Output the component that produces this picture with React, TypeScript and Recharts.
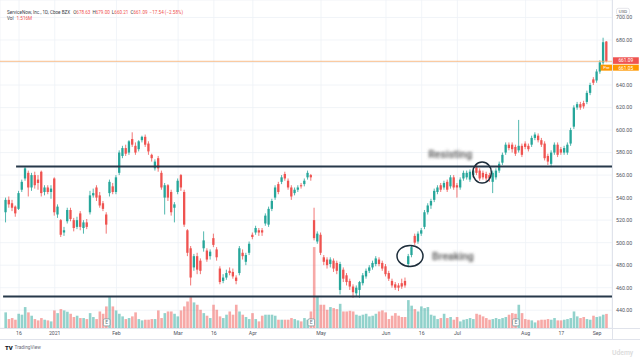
import React from "react";
import {
  ComposedChart,
  Bar,
  XAxis,
  YAxis,
  CartesianGrid,
  ReferenceLine,
  ReferenceDot,
} from "recharts";

// ---- data (ServiceNow, 1D) ----
const OPEN = [
  527, 538, 535, 532, 530, 547, 557, 562, 549, 560,
  556, 563, 545, 549, 545, 557, 525, 520, 509, 519,
  529, 520, 514, 526, 513, 518, 527, 542, 549, 542,
  535, 525, 544, 550, 545, 562, 577, 584, 580, 592,
  586, 583, 591, 594, 588, 578, 566, 575, 562, 540,
  551, 545, 531, 545, 560, 545, 511, 495, 478, 488,
  484, 495, 493, 488, 504, 494, 477, 466, 469, 475,
  474, 469, 473, 491, 483, 491, 507, 509, 511, 511,
  517, 516, 530, 540, 552, 554, 561, 555, 549, 544,
  547, 551, 552, 558, 560, 520, 501, 507, 487, 485,
  481, 484, 482, 458, 476, 471, 466, 461, 455, 458,
  464, 470, 475, 478, 481, 485, 482, 479, 473, 466,
  463, 462, 464, 466, 481, 489, 506, 501, 508, 514,
  527, 533, 538, 545, 551, 549, 554, 550, 558, 551,
  549, 557, 558, 556, 560, 567, 564, 562, 561, 560,
  554, 558, 564, 571, 580, 587, 587, 585, 582, 586,
  588, 586, 587, 593, 595, 591, 588, 577, 570, 580,
  587, 583, 580, 580, 588, 603, 620, 623, 624, 625,
  633, 645, 644, 652, 660, 678.63,
];
const HIGH = [
  540, 541, 538, 533, 546, 556, 568, 564, 562, 563,
  560, 564, 551, 551, 551, 558, 534, 521, 514, 531,
  531, 522, 523, 528, 520, 521, 546, 548, 551, 545,
  537, 527, 556, 553, 560, 582, 586, 587, 591, 598,
  589, 591, 595, 596, 590, 579, 574, 577, 564, 553,
  552, 547, 536, 557, 561, 547, 512, 497, 490, 491,
  486, 510, 495, 494, 508, 496, 479, 472, 476, 478,
  477, 471, 497, 494, 491, 501, 509, 515, 513, 513,
  526, 532, 539, 551, 554, 560, 563, 557, 551, 549,
  551, 553, 557, 564, 561, 531, 510, 509, 489, 487,
  487, 486, 484, 483, 478, 473, 468, 463, 462, 466,
  473, 477, 480, 484, 488, 487, 484, 481, 475, 468,
  465, 464, 468, 469, 490, 498, 508, 510, 513, 529,
  535, 539, 548, 551, 553, 555, 556, 560, 560, 553,
  558, 564, 564, 565, 566, 569, 566, 564, 563, 562,
  564, 566, 572, 580, 589, 589, 589, 587, 609, 588,
  590, 588, 595, 598, 597, 593, 590, 579, 582, 589,
  589, 585, 586, 589, 602, 622, 625, 625, 626, 635,
  642, 647, 654, 662, 682, 679.0,
];
const LOW = [
  518, 531, 528, 523, 529, 545, 555, 541, 546, 548,
  547, 541, 542, 543, 539, 524, 522, 505, 506, 517,
  519, 510, 512, 511, 508, 512, 525, 540, 537, 531,
  528, 508, 541, 543, 543, 560, 575, 577, 578, 585,
  578, 581, 589, 585, 578, 572, 564, 563, 547, 525,
  537, 524, 518, 543, 546, 514, 488, 462, 475, 472,
  472, 492, 483, 485, 496, 484, 463, 464, 467, 471,
  468, 463, 471, 485, 480, 489, 503, 507, 506, 506,
  515, 514, 528, 538, 543, 552, 555, 547, 538, 542,
  545, 548, 550, 556, 555, 502, 499, 489, 480, 477,
  478, 474, 472, 454, 465, 462, 458, 451, 452, 451,
  462, 468, 473, 476, 479, 479, 475, 470, 466, 460,
  458, 457, 459, 460, 478, 487, 498, 499, 506, 512,
  525, 530, 536, 543, 545, 547, 545, 548, 547, 540,
  547, 555, 556, 554, 558, 560, 555, 556, 555, 554,
  544, 556, 562, 569, 578, 582, 580, 577, 580, 576,
  583, 581, 585, 591, 589, 585, 573, 569, 567, 578,
  576, 578, 578, 578, 586, 601, 618, 618, 619, 623,
  631, 640, 642, 650, 658, 660.21,
];
const CLOSE = [
  538, 534, 531, 526, 544, 554, 566, 549, 560, 551,
  553, 544, 549, 545, 548, 527, 532, 507, 511, 529,
  521, 513, 520, 514, 518, 514, 542, 544, 540, 533,
  530, 516, 554, 545, 558, 580, 584, 579, 590, 587,
  580, 590, 594, 587, 581, 575, 572, 566, 549, 551,
  540, 527, 534, 555, 549, 516, 491, 469, 488, 476,
  475, 502, 485, 492, 498, 487, 465, 469, 473, 473,
  470, 466, 495, 488, 489, 499, 505, 513, 509, 509,
  524, 530, 537, 549, 545, 558, 557, 549, 541, 547,
  549, 550, 555, 562, 558, 504, 508, 491, 483, 480,
  485, 477, 475, 481, 468, 465, 461, 456, 460, 465,
  471, 475, 478, 482, 486, 481, 477, 472, 468, 462,
  460, 460, 461, 462, 488, 496, 500, 508, 511, 527,
  533, 537, 546, 549, 547, 553, 547, 558, 549, 549,
  556, 562, 562, 563, 564, 562, 557, 558, 557, 557,
  562, 564, 570, 578, 587, 584, 583, 579, 586, 578,
  585, 583, 593, 596, 591, 587, 575, 572, 580, 587,
  578, 580, 584, 587, 600, 620, 623, 620, 621, 633,
  640, 642, 652, 660, 678, 661.09,
];
// volume in millions of shares
const VOLUME = [
  1.68, 0.96, 1.07, 0.89, 1.53, 1.43, 2.25, 1.68, 1.32, 0.96,
  0.82, 1.07, 0.89, 0.82, 0.71, 1.89, 1.6, 2.03, 1.89, 1.75,
  1.53, 1.18, 1.32, 1.07, 1.07, 0.96, 1.6, 1.18, 0.96, 1.78,
  1.53, 2.32, 3.32, 2.32, 1.89, 1.53, 1.25, 0.96, 1.07, 1.25,
  1.68, 0.96, 0.82, 0.89, 0.89, 0.96, 0.96, 1.89, 1.07, 1.6,
  1.78, 1.78, 1.53, 1.25, 1.89, 2.32, 2.85, 3.32, 2.75, 2.5,
  1.96, 1.6, 1.32, 1.07, 2.5, 1.96, 1.25, 1.07, 1.43, 1.78,
  1.43, 2.5, 1.78, 1.43, 1.18, 0.96, 1.6, 0.96, 0.71, 1.32,
  1.43, 1.43, 1.43, 1.32, 0.89, 0.89, 0.89, 0.89, 1.07, 0.96,
  0.82, 0.71, 1.07, 0.89, 1.78, 8.7, 3.4, 2.5, 2.5, 1.96,
  2.25, 2.14, 2.03, 2.6, 1.78, 1.78, 1.85, 1.78, 1.43, 1.32,
  1.43, 1.53, 1.25, 1.32, 1.53, 1.78, 1.89, 1.68, 0.96, 1.32,
  1.6, 1.32, 1.18, 1.18, 3.0, 2.4, 2.03, 1.78, 2.32, 2.14,
  2.25, 1.43, 1.32, 0.96, 1.07, 1.53, 1.07, 1.18, 0.89, 1.18,
  0.71, 0.89, 0.96, 1.07, 0.96, 1.53, 1.43, 1.25, 1.07, 0.89,
  0.96, 1.07, 0.96, 1.07, 1.18, 1.43, 1.6, 1.53, 2.5, 1.6,
  0.96, 0.89, 0.82, 0.6, 0.82, 0.89, 0.89, 0.96, 0.89, 1.07,
  0.82, 0.82, 0.89, 0.96, 1.07, 1.78, 1.25, 1.07, 1.18, 0.96,
  0.89, 1.32, 1.18, 1.25, 1.43, 1.516,
];

const TIME_TICKS = [4, 15, 34, 53, 64, 76, 97, 117, 128, 139, 160, 171, 182];
const TIME_LABELS = ["16", "2021", "Feb", "Mar", "16", "Apr", "May", "Jun", "16", "Jul", "Aug", "17", "Sep"];
const PRICE_TICKS = [440, 460, 480, 500, 520, 540, 560, 580, 600, 620, 640, 660, 680, 700];
// tick labels covered by the last-price badge on the price scale
const HIDDEN_PRICE_LABELS = [660];
const EARNINGS_BARS = [31, 94, 157];
const RESISTANCE = 567.6;
const SUPPORT = 452.2;
const LAST_PRICE = 661.09;
const PRE_PRICE = 661.05;

const data = OPEN.map((o, i) => ({
  i,
  o,
  h: HIGH[i],
  l: LOW[i],
  c: CLOSE[i],
  v: VOLUME[i],
}));

const UP = "#26a69a";
const DOWN = "#ef5350";
const UP_VOL = "rgba(38,166,154,0.5)";
const DOWN_VOL = "rgba(239,83,80,0.5)";
const LINE = "#27394a";
const FONT = "Roboto, 'Open Sans', sans-serif";
const X_DOMAIN: [number, number] = [-1.85, 186.6];

const Candle = (props: any) => {
  const { x, y, width, height, payload } = props;
  if (x == null || y == null || !payload) return null;
  const { o, h, l, c } = payload;
  const up = c >= o;
  const color = up ? UP : DOWN;
  const top = Math.min(y, y + height);
  const hgt = Math.abs(height);
  const py = (v: number) => top + ((h - v) / (h - l || 1)) * hgt;
  const cx = x + width / 2;
  const bTop = py(Math.max(o, c));
  const bBot = py(Math.min(o, c));
  return (
    <g>
      <line x1={cx} x2={cx} y1={top} y2={top + hgt} stroke={color} strokeWidth={0.8} />
      <rect x={x} y={bTop} width={width} height={Math.max(0.9, bBot - bTop)} fill={color} />
    </g>
  );
};

const VolBar = (props: any) => {
  const { x, y, width, height, payload } = props;
  if (x == null || y == null || !payload) return null;
  const up = payload.c >= payload.o;
  return <rect x={x} y={y} width={width} height={height} fill={up ? UP_VOL : DOWN_VOL} />;
};

const XTick = (props: any) => {
  const { x, y, payload } = props;
  const k = TIME_TICKS.indexOf(payload.value);
  return (
    <text x={x} y={y + 7} textAnchor="middle" fontSize={5.2} fill="#50535e" fontFamily={FONT}>
      {k >= 0 ? TIME_LABELS[k] : ""}
    </text>
  );
};

const YTick = (props: any) => {
  const { x, y, payload } = props;
  if (HIDDEN_PRICE_LABELS.includes(payload.value)) return <g />;
  return (
    <text x={x + 4} y={y + 1.9} textAnchor="start" fontSize={5.3} fill="#50535e" fontFamily={FONT}>
      {payload.value.toFixed(2)}
    </text>
  );
};

const Ellipse = (rx: number, ry: number) => (p: any) =>
  <ellipse cx={p.cx} cy={p.cy} rx={rx} ry={ry} fill="none" stroke="#1d2d3a" strokeWidth={1.5} />;

const BlurText = (label: string) => (p: any) =>
  <text x={p.cx} y={p.cy + 3.6} fontSize={10.5} fontWeight={600} fill="#5f5f5f" fontFamily={FONT} filter="url(#tvblur)">
    {label}
  </text>;

const EarningsMark = (p: any) => (
  <g>
    <rect x={p.cx - 3.3} y={p.cy - 3.5} width={6.6} height={7} rx={1.2} fill="#ffffff" stroke="#7e9aa0" strokeWidth={0.8} />
    <text x={p.cx} y={p.cy + 1.9} textAnchor="middle" fontSize={5} fill="#5f7780" fontFamily={FONT}>E</text>
  </g>
);

const LastLabel = (p: any) => (
  <g>
    <rect x={p.cx + 0.8} y={p.cy - 4} width={26} height={6.6} fill={DOWN} />
    <text x={p.cx + 13.8} y={p.cy + 1.2} textAnchor="middle" fontSize={4.8} fill="#fff" fontFamily={FONT}>
      {LAST_PRICE.toFixed(2)}
    </text>
  </g>
);

const PreLabel = (p: any) => (
  <g>
    <rect x={p.cx - 11.5} y={p.cy + 3.4} width={11.8} height={6} fill="#ff9800" />
    <text x={p.cx - 5.6} y={p.cy + 8.2} textAnchor="middle" fontSize={4.3} fill="#fff" fontFamily={FONT}>Pre</text>
    <rect x={p.cx + 0.8} y={p.cy + 3.4} width={26} height={6} fill="#ff9800" />
    <text x={p.cx + 13.8} y={p.cy + 8.3} textAnchor="middle" fontSize={4.8} fill="#fff" fontFamily={FONT}>
      {PRE_PRICE.toFixed(2)}
    </text>
  </g>
);

export default function App() {
  return (
    <div style={{ position: "absolute", left: 0, top: 0, width: 640, height: 360, background: "#fff", overflow: "hidden" }}>
      <svg width={0} height={0} style={{ position: "absolute" }}>
        <defs>
          <filter id="tvblur" x="-20%" y="-60%" width="140%" height="220%">
            <feGaussianBlur stdDeviation="1.7" />
          </filter>
        </defs>
      </svg>
      <ComposedChart
        width={640}
        height={339}
        data={data}
        margin={{ top: 0, right: 0, bottom: 0, left: 0 }}
        style={{ position: "absolute", left: 0, top: 0 }}
      >
        <CartesianGrid stroke="#eef1f6" strokeWidth={0.8} />
        <XAxis
          dataKey="i"
          type="number"
          domain={X_DOMAIN}
          allowDataOverflow
          ticks={TIME_TICKS}
          interval={0}
          height={11}
          tickSize={0}
          tickMargin={0}
          axisLine={false}
          tickLine={false}
          tick={<XTick />}
        />
        <XAxis xAxisId="vx" dataKey="i" type="number" domain={X_DOMAIN} allowDataOverflow hide />
        <YAxis
          orientation="right"
          width={28}
          domain={[424.2, 715.5]}
          allowDataOverflow
          ticks={PRICE_TICKS}
          interval={0}
          tickSize={0}
          tickMargin={0}
          axisLine={false}
          tickLine={false}
          tick={<YTick />}
        />
        <YAxis yAxisId="v" domain={[0, 35.27]} allowDataOverflow hide />
        <Bar
          xAxisId="vx"
          yAxisId="v"
          dataKey="v"
          barSize={2.6}
          shape={<VolBar />}
          isAnimationActive={false}
        />
        {EARNINGS_BARS.map((b) => (
          <ReferenceDot key={b} xAxisId="vx" yAxisId="v" x={b} y={0.6} r={3} shape={EarningsMark} ifOverflow="visible" />
        ))}
        <ReferenceLine y={PRE_PRICE} stroke="#f7b377" strokeOpacity={0.85} strokeWidth={1} />
        <ReferenceLine
          segment={[{ x: 3.1, y: RESISTANCE }, { x: X_DOMAIN[1], y: RESISTANCE }]}
          stroke={LINE}
          strokeWidth={2}
        />
        <ReferenceLine
          segment={[{ x: -0.9, y: SUPPORT }, { x: X_DOMAIN[1], y: SUPPORT }]}
          stroke={LINE}
          strokeWidth={2}
        />
        <Bar
          dataKey={(d: any) => [d.l, d.h]}
          barSize={2.3}
          shape={<Candle />}
          isAnimationActive={false}
        />
        <ReferenceDot x={124.4} y={488.2} r={10} shape={Ellipse(13, 10.5)} ifOverflow="visible" />
        <ReferenceDot x={146.6} y={562.3} r={10} shape={Ellipse(9.3, 10.5)} ifOverflow="visible" />
        <ReferenceDot x={130} y={578.3} r={1} shape={BlurText("Resisting")} ifOverflow="visible" />
        <ReferenceDot x={131.2} y={487.7} r={1} shape={BlurText("Breaking")} ifOverflow="visible" />
        <ReferenceDot x={X_DOMAIN[1]} y={LAST_PRICE} r={1} shape={PreLabel} ifOverflow="visible" />
        <ReferenceDot x={X_DOMAIN[1]} y={LAST_PRICE} r={1} shape={LastLabel} ifOverflow="visible" />
      </ComposedChart>
      <svg width={640} height={360} style={{ position: "absolute", left: 0, top: 0, pointerEvents: "none" }} fontFamily={FONT}>
        <line x1={0} x2={640} y1={328.5} y2={328.5} stroke="#e0e3eb" strokeWidth={1} />
        <line x1={0} x2={640} y1={339.5} y2={339.5} stroke="#e0e3eb" strokeWidth={1} />
        <line x1={612.5} x2={612.5} y1={0} y2={339.5} stroke="#e0e3eb" strokeWidth={1} />
        <rect x={616.5} y={8.3} width={13} height={6.4} rx={2} fill="#fff" stroke="#d1d4dc" strokeWidth={0.6} />
        <text x={623} y={13} textAnchor="middle" fontSize={4.4} fill="#50535e">USD</text>
        <text x={7} y={13.8} fontSize={4.6} fill="#3b3f4a">
          ServiceNow, Inc., 1D, Cboe BZX
          <tspan dx={3}>O</tspan><tspan fill={DOWN}>678.63</tspan>
          <tspan dx={2}>H</tspan><tspan fill={DOWN}>679.00</tspan>
          <tspan dx={2}>L</tspan><tspan fill={DOWN}>660.21</tspan>
          <tspan dx={2}>C</tspan><tspan fill={DOWN}>661.09</tspan>
          <tspan dx={2} fill={DOWN}>−17.54 (−2.58%)</tspan>
        </text>
        <text x={7} y={19.8} fontSize={4.6} fill="#3b3f4a">
          Vol<tspan dx={3} fill={DOWN}>1.516M</tspan>
        </text>
        <text x={5} y={349.5} fontSize={6} fontWeight={900} fill="#131722">TV</text>
        <text x={14.5} y={349.2} fontSize={4.8} fill="#6a6d78">TradingView</text>
        <text x={612} y={355} fontSize={6.8} fontWeight={600} fill="#dcdcdc">Udemy</text>
      </svg>
    </div>
  );
}
